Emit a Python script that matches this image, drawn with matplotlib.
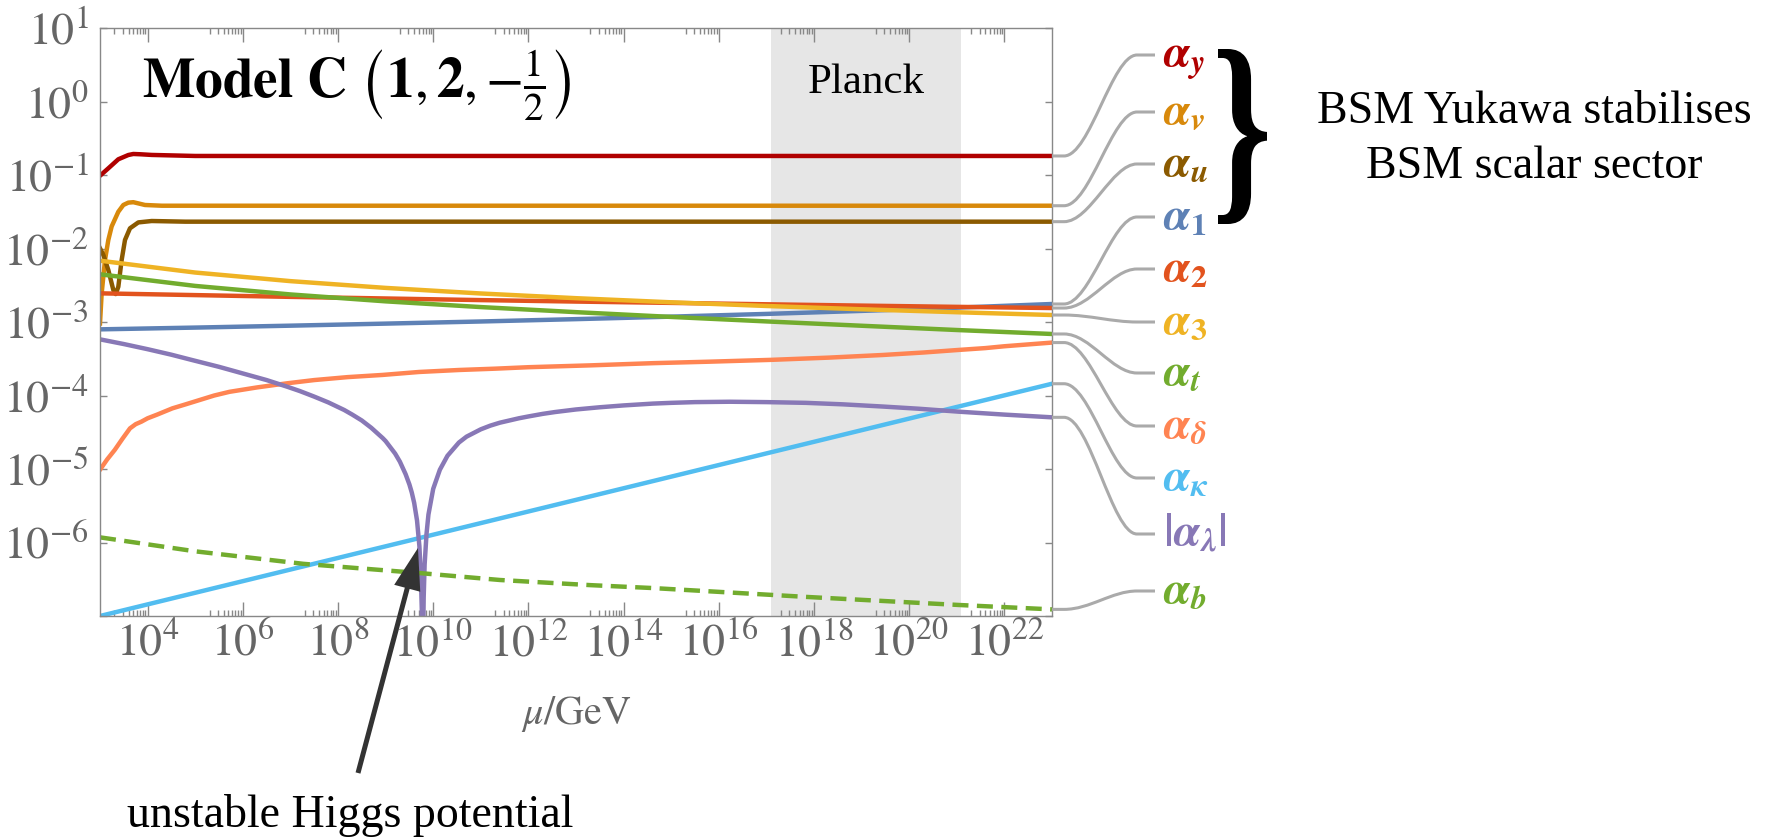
import numpy as np
import matplotlib.pyplot as plt
from matplotlib.path import Path
from matplotlib.patches import PathPatch
from matplotlib.textpath import TextPath
from matplotlib.font_manager import FontProperties
from matplotlib.transforms import Affine2D, IdentityTransform, blended_transform_factory
from matplotlib.ticker import NullFormatter, NullLocator, FixedLocator

plt.rcParams['font.family'] = ['Liberation Serif', 'DejaVu Serif']
plt.rcParams['mathtext.fontset'] = 'stix'

# running couplings: log10(mu/GeV) -> log10(alpha)
t_y = [3.0, 3.175, 3.385, 3.595, 3.70, 3.85, 4.086, 5.0, 23.0]
a_y = [-1.01, -0.909, -0.786, -0.728, -0.714, -0.718, -0.727, -0.741, -0.741]

t_v = [3.0, 3.035, 3.105, 3.175, 3.245, 3.385, 3.49, 3.595, 3.70, 3.945, 4.3, 23.0]
a_v = [-3.02, -2.61, -2.156, -1.884, -1.70, -1.50, -1.408, -1.376, -1.37, -1.408, -1.418, -1.418]

t_u = [3.0, 3.07, 3.175, 3.28, 3.33, 3.385, 3.455, 3.525, 3.63, 3.805, 4.086, 4.79, 23.0]
a_u = [-1.997, -2.088, -2.293, -2.565, -2.62, -2.52, -2.156, -1.884, -1.725, -1.645, -1.626, -1.635, -1.635]

t_g = [3, 5, 7, 9, 11, 13, 15, 17, 19, 21, 23]
a_1 = [-3.100, -3.076, -3.050, -3.022, -2.993, -2.961, -2.927, -2.890, -2.849, -2.805, -2.755]
a_2 = [-2.610, -2.634, -2.658, -2.680, -2.702, -2.722, -2.740, -2.759, -2.777, -2.794, -2.810]
a_3 = [-2.166, -2.327, -2.444, -2.536, -2.612, -2.676, -2.732, -2.782, -2.827, -2.867, -2.905]
a_t = [-2.351, -2.509, -2.625, -2.719, -2.797, -2.866, -2.931, -2.992, -3.051, -3.109, -3.163]

t_d = [3.0, 3.15, 3.31, 3.47, 3.63, 3.75, 3.87, 4.0, 4.2, 4.52, 4.8, 5.1, 5.4, 5.72, 6.3, 6.93,
       7.5, 8.2, 8.94, 9.7, 10.54, 11.3, 12.0, 13.3, 14.62, 15.8, 17.1, 18.3, 19.44, 20.3, 21.04,
       21.6, 22.0, 22.5, 23.0]
a_d = [-5.01, -4.87, -4.74, -4.59, -4.447, -4.39, -4.356, -4.31, -4.26, -4.175, -4.12, -4.06,
       -4.00, -3.95, -3.89, -3.834, -3.79, -3.75, -3.72, -3.68, -3.653, -3.635, -3.615, -3.59,
       -3.56, -3.54, -3.515, -3.485, -3.449, -3.415, -3.38, -3.355, -3.33, -3.305, -3.28]

t_k = [3, 8, 13, 18, 23]
a_k = [-7.0, -6.21, -5.42, -4.63, -3.84]

t_l = [3.0, 3.5, 4.0, 4.5, 4.92, 5.5, 6.0, 6.5, 6.93, 7.2, 7.5, 7.8, 8.13, 8.3, 8.5, 8.7, 8.94,
       9.0, 9.2, 9.3, 9.42, 9.5, 9.55, 9.6, 9.66, 9.71, 9.74, 9.76, 9.775, 9.785, 9.80, 9.82,
       9.86, 9.90, 10.0, 10.14, 10.3, 10.54, 10.7, 11.0, 11.2, 11.4, 11.8, 12.0, 12.3, 12.56,
       13.0, 13.5, 14.0, 14.62, 15.0, 15.5, 16.23, 17.0, 17.83, 18.6, 19.44, 20.2, 21.04, 22.0,
       23.0]
a_l = [-3.236, -3.30, -3.37, -3.445, -3.515, -3.61, -3.70, -3.79, -3.88, -3.94, -4.015, -4.095,
       -4.197, -4.26, -4.34, -4.44, -4.58, -4.62, -4.79, -4.90, -5.07, -5.21, -5.32, -5.46,
       -5.70, -6.05, -6.45, -6.9, -7.5, -7.5, -6.75, -6.30, -5.88, -5.62, -5.27, -5.01, -4.82,
       -4.64, -4.56, -4.46, -4.41, -4.37, -4.31, -4.285, -4.25, -4.225, -4.19, -4.16, -4.135,
       -4.11, -4.10, -4.09, -4.085, -4.09, -4.10, -4.12, -4.15, -4.18, -4.22, -4.26, -4.297]

t_b = [3, 5, 7.27, 9.79, 11.4, 13.3, 14.62, 17.83, 21.04, 23]
a_b = [-5.93, -6.12, -6.29, -6.42, -6.51, -6.58, -6.62, -6.74, -6.85, -6.91]

planck = (17.09, 21.09)
x_major = [4, 6, 8, 10, 12, 14, 16, 18, 20, 22]

names = [r'$\mathbfit{\alpha}_{\mathbfit{y}}$', r'$\mathbfit{\alpha}_{\mathbfit{v}}$',
         r'$\mathbfit{\alpha}_{\mathbfit{u}}$', r'$\mathbfit{\alpha}_{\mathbf{1}}$',
         r'$\mathbfit{\alpha}_{\mathbf{2}}$', r'$\mathbfit{\alpha}_{\mathbf{3}}$',
         r'$\mathbfit{\alpha}_{\mathbfit{t}}$', r'$\mathbfit{\alpha}_{\mathbfit{\delta}}$',
         r'$\mathbfit{\alpha}_{\mathbfit{\kappa}}$', r'$\mathbf{|}\mathbfit{\alpha}_{\mathbfit{\lambda}}\mathbf{|}$',
         r'$\mathbfit{\alpha}_{\mathbfit{b}}$']

series = [
    (t_y, a_y, '#b00000', '-'),
    (t_v, a_v, '#d8890b', '-'),
    (t_u, a_u, '#8b5a00', '-'),
    (t_g, a_1, '#5e81b5', '-'),
    (t_g, a_2, '#e2531e', '-'),
    (t_g, a_3, '#efb324', '-'),
    (t_g, a_t, '#72ac2e', '-'),
    (t_d, a_d, '#ff8452', '-'),
    (t_k, a_k, '#52bdf0', '-'),
    (t_l, a_l, '#8878b6', '-'),
    (t_b, a_b, '#72ac2e', (0, (3.6, 1.9))),
]

W, H = 1775, 839
fig = plt.figure(figsize=(W / 100, H / 100), dpi=100)
ax = fig.add_axes([100 / W, 1 - 616 / H, 952 / W, 588 / H])
ax.set_xscale('log')
ax.set_yscale('log')
ax.set_xlim(1e3, 1e23)
ax.set_ylim(1e-7, 1e1)

ax.axvspan(10 ** planck[0], 10 ** planck[1], color='#e6e6e6', lw=0, zorder=0)

for t, a, c, ls in series:
    ax.plot(10 ** np.array(t, float), 10 ** np.array(a, float), color=c, lw=3.2, ls=ls,
            solid_joinstyle='round', zorder=2)

ax.set_xticks([10.0 ** k for k in x_major])
ax.set_xticklabels([rf'$10^{{{k}}}$' for k in x_major])
ax.xaxis.set_minor_locator(FixedLocator([m * 10.0 ** n for n in range(3, 22, 2) for m in range(2, 10)]))
ax.xaxis.set_minor_formatter(NullFormatter())
ax.set_yticks([10.0 ** k for k in range(-7, 2)])
ax.set_yticklabels([''] + [rf'$10^{{{k}}}$' for k in range(-6, 2)])
ax.yaxis.set_minor_locator(NullLocator())

ax.tick_params(which='both', direction='in', top=True, right=True, color='#888888',
               labelcolor='#666666', labelsize=33, width=1)
ax.tick_params(axis='x', which='major', length=10, pad=5)
ax.tick_params(axis='x', which='minor', length=4.3)
ax.tick_params(axis='y', which='major', length=5, pad=8)
for s in ax.spines.values():
    s.set_color('#888888')
    s.set_linewidth(1.0)

ax.set_xlabel(r'$\mu/\mathrm{GeV}$', fontsize=29, color='#666666')
ax.xaxis.set_label_coords(0.5, -0.132)

ax.text(0.0437, 0.881, r'$\mathbf{Model\ C}\ \left(\mathbf{1},\mathbf{2},{-}\frac{1}{2}\right)$',
        transform=ax.transAxes, fontsize=40, ha='left', va='baseline')
ax.text(10 ** (sum(planck) / 2), 0.889, 'Planck', fontsize=31, ha='center', va='baseline',
        transform=blended_transform_factory(ax.transData, ax.transAxes))

# callout lines from the right end of each curve to its label
label_rows = [55, 112, 164, 217, 269, 322, 373, 426, 478, 534, 591]
codes = [Path.MOVETO, Path.LINETO, Path.CURVE4, Path.CURVE4, Path.CURVE4, Path.LINETO]
for (t, a, c, ls), name, row in zip(series, names, label_rows):
    x0, y0 = ax.transData.transform((10.0 ** t[-1], 10.0 ** a[-1]))
    y1 = H - row
    verts = [(x0, y0), (x0 + 12, y0), (x0 + 38, y0), (1112, y1), (1137, y1), (1155, y1)]
    fig.add_artist(PathPatch(Path(verts, codes), fill=False, ec='#aaaaaa', lw=2.2,
                             transform=IdentityTransform()))
    fig.text(1163 / W, (y1 - 12) / H, name, color=c, fontsize=33, ha='left', va='baseline')

# curly brace over the first three labels
tp = TextPath((0, 0), '}', size=100, prop=FontProperties(family='Liberation Serif', weight='bold'))
ext = tp.get_extents()
bx0, bx1, by0, by1 = 1218, 1267, H - 224, H - 49
tr = Affine2D().translate(-ext.x0, -ext.y0).scale((bx1 - bx0) / ext.width, (by1 - by0) / ext.height)
tr = tr.translate(bx0, by0)
fig.add_artist(PathPatch(tr.transform_path(tp), fc='black', lw=0, transform=IdentityTransform()))

fig.text(1534 / W, 1 - 123 / H, 'BSM Yukawa stabilises', fontsize=33, ha='center', va='baseline')
fig.text(1534 / W, 1 - 178 / H, 'BSM scalar sector', fontsize=33, ha='center', va='baseline')

ax.annotate('', xy=(10 ** 9.68, 10 ** -6.075), xycoords='data', xytext=(358, H - 773),
            textcoords='figure pixels', annotation_clip=False,
            arrowprops=dict(arrowstyle='simple,head_length=1.5,head_width=0.97,tail_width=0.18',
                            mutation_scale=20, color='#333333', lw=0, shrinkA=0, shrinkB=0))
fig.text(127 / W, 1 - 827 / H, 'unstable Higgs potential', fontsize=33, ha='left', va='baseline')

fig.savefig('out.png', dpi=100)
